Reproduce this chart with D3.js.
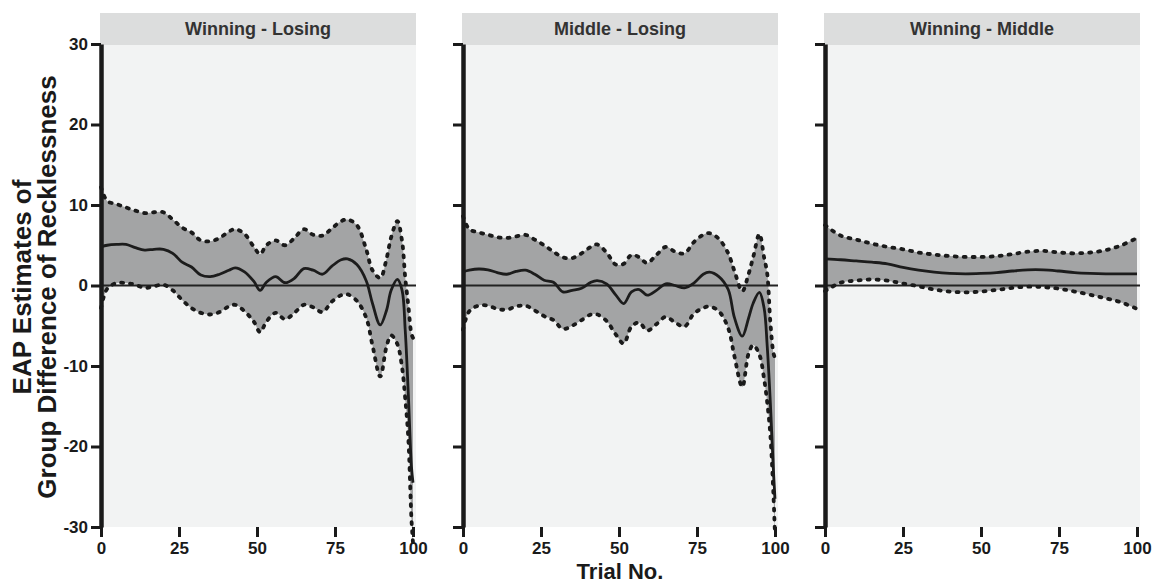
<!DOCTYPE html>
<html>
<head>
<meta charset="utf-8">
<script src="https://cdn.jsdelivr.net/npm/d3@7"></script>
<style>
    body { margin: 0; background: #ffffff; }
    svg text { font-family: Arial, "Liberation Sans", sans-serif; font-weight: bold; }
</style>
</head>
<body>
<div class="chart"></div>
<script>
// Panel titles and axis ticks
var panelTitles = ["Winning - Losing", "Middle - Losing", "Winning - Middle"];
var yTicks = [-30, -20, -10, 0, 10, 20, 30];
var xTicks = [0, 25, 50, 75, 100];

// Winning - Losing
var trialWL = [0, 2, 5, 8, 11, 14, 17, 20, 23, 26, 29, 32, 35, 38, 41, 43, 46, 49, 51, 53, 56, 59, 62, 65, 68, 71, 74, 77, 79, 82, 85, 87, 89.5, 91.5, 93, 95, 96.5, 97.5, 98.5, 99.5, 100];
var meanWL = [4.8, 5.0, 5.1, 5.1, 4.7, 4.4, 4.5, 4.5, 4.0, 2.9, 2.3, 1.3, 1.1, 1.4, 1.9, 2.2, 1.7, 0.5, -0.6, 0.4, 1.1, 0.35, 0.9, 2.1, 1.9, 1.4, 2.4, 3.2, 3.3, 2.6, 0.6, -2.2, -4.9, -3.1, -0.6, 0.75, -0.6, -5.5, -13.5, -22.5, -24.5];
var upperWL = [12.2, 10.5, 10.1, 9.7, 9.3, 9.0, 9.1, 9.1, 8.2, 7.2, 6.6, 5.6, 5.5, 5.9, 6.7, 7.0, 6.4, 4.8, 3.9, 5.0, 5.6, 5.0, 5.9, 7.0, 6.3, 6.2, 7.1, 8.0, 8.2, 7.5, 4.5, 1.9, 0.95, 3.3, 6.0, 8.0, 5.5, 1.0, -2.5, -6.0, -6.5];
var lowerWL = [-2.8, -0.4, 0.3, 0.3, 0.1, -0.3, -0.1, 0.1, -0.6, -1.8, -2.8, -3.4, -3.6, -3.3, -2.6, -2.4, -3.2, -4.5, -5.8, -4.5, -3.4, -4.2, -3.4, -2.4, -2.7, -3.3, -2.0, -1.2, -1.1, -1.9, -4.0, -7.4, -11.3, -7.6, -6.2, -7.3, -10.2, -14, -19, -29, -32];

// Middle - Losing
var trialML = [0, 2, 5, 8, 11, 14, 17, 20, 23, 26, 29, 32, 35, 38, 41, 43, 46, 49, 51.5, 54, 56.5, 59, 62, 65, 68, 71, 74, 77, 79, 82, 85, 87, 89.5, 91.5, 93, 95, 96.5, 97.5, 98.5, 99.5, 100];
var meanML = [1.7, 1.9, 2.05, 1.95, 1.6, 1.4, 1.75, 1.9, 1.4, 0.65, 0.4, -0.8, -0.6, -0.35, 0.4, 0.6, 0.2, -1.2, -2.25, -0.8, -0.5, -1.2, -0.6, 0.2, 0.0, -0.3, 0.3, 1.4, 1.65, 1.1, -0.5, -4.0, -6.3, -4.1, -2.2, -0.85, -2.8, -7.5, -14.5, -23, -26.5];
var upperML = [8.6, 7.0, 6.6, 6.3, 6.0, 5.9, 6.1, 6.3, 5.7, 5.0, 4.2, 3.5, 3.4, 4.0, 4.8, 5.1, 4.1, 2.6, 2.7, 3.8, 3.5, 2.8, 3.8, 4.8, 4.2, 4.0, 5.4, 6.3, 6.5, 5.8, 4.0, 1.8, -0.7, 1.4, 3.5, 6.4, 3.5, 1.5, -4.5, -8.4, -9];
var lowerML = [-5.5, -3.2, -2.5, -2.5, -2.9, -3.0, -2.6, -2.5, -3.1, -3.8, -4.3, -5.4, -5.0, -4.3, -3.6, -3.6, -4.4, -6.1, -7.2, -5.1, -4.6, -5.6, -4.8, -3.9, -4.6, -5.1, -3.5, -2.8, -2.6, -3.2, -5.3, -8.8, -12.6, -8.5, -7.4, -8.6, -11.6, -14.5, -18.5, -26, -31];

// Winning - Middle
var trialWM = [0, 5, 10, 15, 20, 25, 30, 35, 40, 45, 50, 55, 60, 65, 70, 75, 80, 85, 90, 95, 100];
var meanWM = [3.3, 3.2, 3.05, 2.9, 2.7, 2.25, 1.9, 1.65, 1.5, 1.45, 1.5, 1.6, 1.8, 1.95, 1.95, 1.8, 1.6, 1.5, 1.45, 1.45, 1.45];
var upperWM = [7.5, 6.2, 5.7, 5.2, 4.8, 4.5, 4.1, 3.85, 3.65, 3.55, 3.55, 3.65, 3.9, 4.2, 4.3, 4.1, 4.0, 4.1, 4.4, 5.0, 5.9];
var lowerWM = [-0.7, 0.35, 0.6, 0.75, 0.6, 0.25, -0.1, -0.5, -0.75, -0.85, -0.75, -0.55, -0.3, -0.15, -0.2, -0.4, -0.75, -1.15, -1.6, -2.1, -2.9];

var width = 1161;
var height = 583;
var panelTop = 45, panelBottom = 527, stripTop = 13;
var panelWidth = 316, panelGap = 46, firstLeft = 100;

var series = [
    { trial: trialWL, mean: meanWL, upper: upperWL, lower: lowerWL },
    { trial: trialML, mean: meanML, upper: upperML, lower: lowerML },
    { trial: trialWM, mean: meanWM, upper: upperWM, lower: lowerWM }
];

const svg = d3.select("div.chart")
    .append("svg")
    .attr("width", width)
    .attr("height", height);

var y = d3.scaleLinear()
    .domain([-30, 30])
    .range([panelBottom, panelTop - 1]);

series.forEach(function (s, p) {
    var left = firstLeft + p * (panelWidth + panelGap);
    var x = d3.scaleLinear()
        .domain([0, 100])
        .range([left + 1, left + 313]);

    var rows = s.trial.map((t, i) => ({ t: t, m: s.mean[i], hi: s.upper[i], lo: s.lower[i] }));

    var g = svg.append("g");

    // strip with the panel title
    g.append("rect")
        .attr("x", left)
        .attr("y", stripTop)
        .attr("width", panelWidth)
        .attr("height", panelTop - stripTop)
        .attr("fill", "#dcdddd");
    g.append("text")
        .attr("x", left + panelWidth / 2)
        .attr("y", stripTop + 22)
        .attr("text-anchor", "middle")
        .attr("fill", "#333333")
        .style("font-size", "18px")
        .text(panelTitles[p]);

    // panel background
    g.append("rect")
        .attr("x", left)
        .attr("y", panelTop)
        .attr("width", panelWidth)
        .attr("height", panelBottom - panelTop)
        .attr("fill", "#f2f3f3");

    var curve = d3.curveCatmullRom.alpha(0.5);

    // credible band
    g.append("path")
        .datum(rows)
        .attr("fill", "#a3a4a5")
        .attr("d", d3.area()
            .x(d => x(d.t))
            .y0(d => y(d.lo))
            .y1(d => y(d.hi))
            .curve(curve));

    // zero line
    g.append("line")
        .attr("x1", left)
        .attr("x2", left + panelWidth)
        .attr("y1", y(0))
        .attr("y2", y(0))
        .attr("stroke", "#222222")
        .attr("stroke-width", 2.2);

    // dotted bounds
    ["hi", "lo"].forEach(function (k) {
        g.append("path")
            .datum(rows)
            .attr("fill", "none")
            .attr("stroke", "#1a1a1a")
            .attr("stroke-width", 3.8)
            .attr("stroke-linecap", "round")
            .attr("stroke-dasharray", "2,7")
            .attr("d", d3.line()
                .x(d => x(d.t))
                .y(d => y(d[k]))
                .curve(curve));
    });

    // posterior mean
    g.append("path")
        .datum(rows)
        .attr("fill", "none")
        .attr("stroke", "#1c1c1c")
        .attr("stroke-width", 2.8)
        .attr("d", d3.line()
            .x(d => x(d.t))
            .y(d => y(d.m))
            .curve(curve));

    // y axis
    var yAxis = d3.axisLeft(y)
        .tickValues(yTicks)
        .tickSize(10)
        .tickSizeOuter(0)
        .tickPadding(3)
        .tickFormat(p === 0 ? (d => String(d)) : "");
    g.append("g")
        .attr("transform", `translate(${left + 1},0)`)
        .call(yAxis)
        .call(a => a.select(".domain")
            .attr("stroke", "#1a1a1a")
            .attr("stroke-width", 4.5))
        .call(a => a.selectAll(".tick line")
            .attr("stroke", "#1a1a1a")
            .attr("stroke-width", 3))
        .call(a => a.selectAll(".tick text")
            .attr("fill", "#1a1a1a")
            .style("font-size", "17px"));

    // x axis (ticks only)
    var xAxis = d3.axisBottom(x)
        .tickValues(xTicks)
        .tickSize(10)
        .tickPadding(5);
    g.append("g")
        .attr("transform", `translate(0,${panelBottom})`)
        .call(xAxis)
        .call(a => a.select(".domain").remove())
        .call(a => a.selectAll(".tick line")
            .attr("stroke", "#1a1a1a")
            .attr("stroke-width", 3))
        .call(a => a.selectAll(".tick text")
            .attr("fill", "#1a1a1a")
            .style("font-size", "17px"));
});

// axis titles
var yTitle = svg.append("text")
    .attr("transform", "translate(0,287) rotate(-90)")
    .attr("text-anchor", "middle")
    .attr("fill", "#1a1a1a")
    .style("font-size", "26px");
yTitle.append("tspan").attr("x", 0).attr("y", 31).text("EAP Estimates of");
yTitle.append("tspan").attr("x", 0).attr("y", 56).text("Group Difference of Recklessness");

svg.append("text")
    .attr("x", 620)
    .attr("y", 579)
    .attr("text-anchor", "middle")
    .attr("fill", "#1a1a1a")
    .style("font-size", "22px")
    .text("Trial No.");
</script>
</body>
</html>
